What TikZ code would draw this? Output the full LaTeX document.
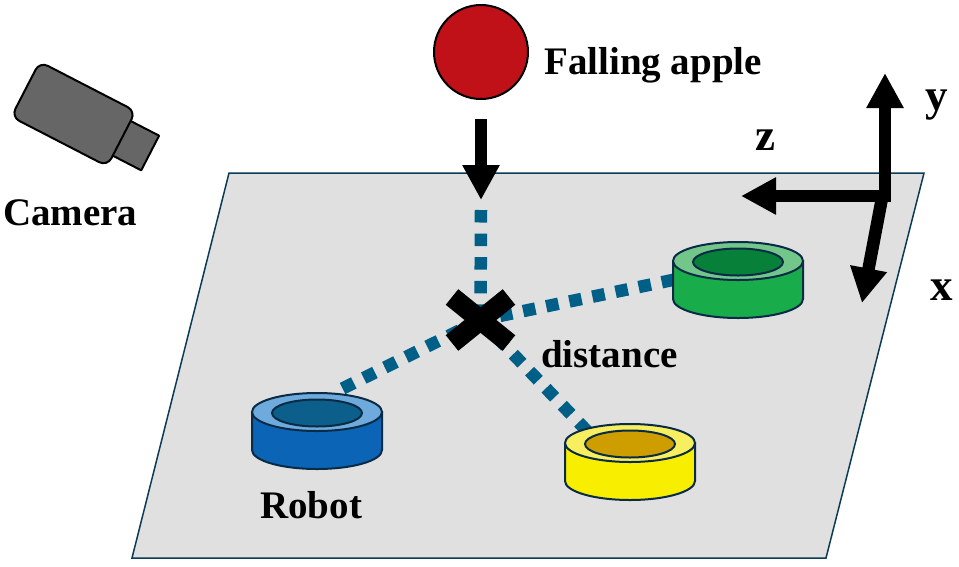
\documentclass[tikz,border=0pt]{standalone}
\usepackage{fontspec}
\setmainfont{Liberation Serif}
\usetikzlibrary{arrows.meta,calc}
\definecolor{plategray}{HTML}{E0E0E0}
\definecolor{edgeblue}{HTML}{0B3B55}
\definecolor{dotblue}{HTML}{005F86}
\definecolor{applered}{HTML}{C01018}
\definecolor{camgray}{HTML}{666666}
\definecolor{ringline}{HTML}{0A2B45}
\definecolor{blueside}{HTML}{0B64B5}
\definecolor{bluetop}{HTML}{6FAADC}
\definecolor{blueinner}{HTML}{0B5F8A}
\definecolor{greenside}{HTML}{19AC4B}
\definecolor{greentop}{HTML}{72C68A}
\definecolor{greeninner}{HTML}{07803A}
\definecolor{yellowside}{HTML}{F7EE00}
\definecolor{yellowtop}{HTML}{F7EF5F}
\definecolor{yellowinner}{HTML}{CE9E00}
\tikzset{
  label text/.style={inner sep=0pt,anchor=base west,font=\fontsize{39}{40}\selectfont\bfseries,text=black},
  axis text/.style={label text,font=\fontsize{45}{46}\selectfont\bfseries},
  path dots/.style={draw=dotblue,line width=12.5pt,dash pattern=on 12.5pt off 11.1pt},
  big arrow/.style={draw=black,line width=12.5pt,-{Triangle[length=35pt,width=35pt]}},
  cam part/.style={fill=camgray,draw=black,line width=2pt,line join=round},
  ring edge/.style={draw=ringline,line width=2pt},
  cross arm/.style={draw=black,line width=20pt},
}
% Ring-shaped robot: name, centre x, top y, side / top / inner colours
\newcommand{\ringrobot}[6]{%
  \path[ring edge,fill=#4] (#2-65,#3) -- (#2-65,#3+38)
     arc[start angle=180,end angle=0,x radius=65,y radius=19] -- (#2+65,#3) -- cycle;
  \path[ring edge,fill=#5] (#2,#3) ellipse[x radius=65,y radius=19];
  \path[ring edge,fill=#6] (#2,#3+1) ellipse[x radius=45,y radius=13.5];
  \coordinate (#1) at (#2,#3);
}
\begin{document}
\begin{tikzpicture}[x=1pt,y=-1pt]
\useasboundingbox (0,0) rectangle (959,566);

% Ground plane
\path[fill=plategray,draw=edgeblue,line width=1.5pt] (229,173) -- (924,173) -- (826,558) -- (132,558) -- cycle;

% Key points
\coordinate (drop) at (480.5,320);
\coordinate (appletail) at (481,119);
\coordinate (applehead) at (481,200);
\coordinate (origin) at (885,196);
\coordinate (ytail) at (885,202);
\coordinate (ytip) at (885,73);
\coordinate (ztip) at (741,196);
\coordinate (xtail) at (882,198);
\coordinate (xtip) at (862,303);
\coordinate (bluestart) at (342.6,388.5);
\coordinate (greenstart) at (674,279.7);
\coordinate (yellowstart) at (587.3,431.3);
\coordinate (fallstart) at (481,210);
\coordinate (armA) at (452,297);
\coordinate (armB) at (509,343);
\coordinate (armC) at (509,297);
\coordinate (armD) at (452,343);

% Dotted distance lines
\draw[path dots] (fallstart) -- (drop);
\draw[path dots] (greenstart) -- (drop);
\draw[path dots] (bluestart) -- (drop);
\draw[path dots] (yellowstart) -- (drop);

% Robots
\ringrobot{bluering}{317}{412}{blueside}{bluetop}{blueinner}
\ringrobot{greenring}{738}{261}{greenside}{greentop}{greeninner}
\ringrobot{yellowring}{630}{443}{yellowside}{yellowtop}{yellowinner}

% Landing mark
\draw[cross arm] (armA) -- (armB);
\draw[cross arm] (armC) -- (armD);

% Apple and its fall
\node[circle,draw=black,line width=2pt,fill=applered,minimum size=94pt,inner sep=0pt] (apple) at (481,52) {};
\draw[big arrow] (appletail) -- (applehead);

% Axes
\draw[big arrow] (xtail) -- (xtip);
\draw[big arrow] (origin) -- (ztip);
\draw[big arrow] (ytail) -- (ytip);

% Camera
\begin{scope}[shift={(73.5,114)},rotate=-27.3]
  \path[cam part] (40,-20) rectangle (86,19);
  \path[cam part,rounded corners=9pt] (-54,-31) rectangle (54,31);
\end{scope}

% Labels
\node[label text] (falling) at (544,74) {Falling apple};
\node[label text] (camera) at (3,225) {Camera};
\node[label text] (robot) at (260,518) {Robot};
\node[label text] (distance) at (541,367) {distance};
\node[axis text] (axisy) at (925,110) {y};
\node[axis text] (axisz) at (755,150) {z};
\node[axis text] (axisx) at (930,300) {x};
\end{tikzpicture}
\end{document}
